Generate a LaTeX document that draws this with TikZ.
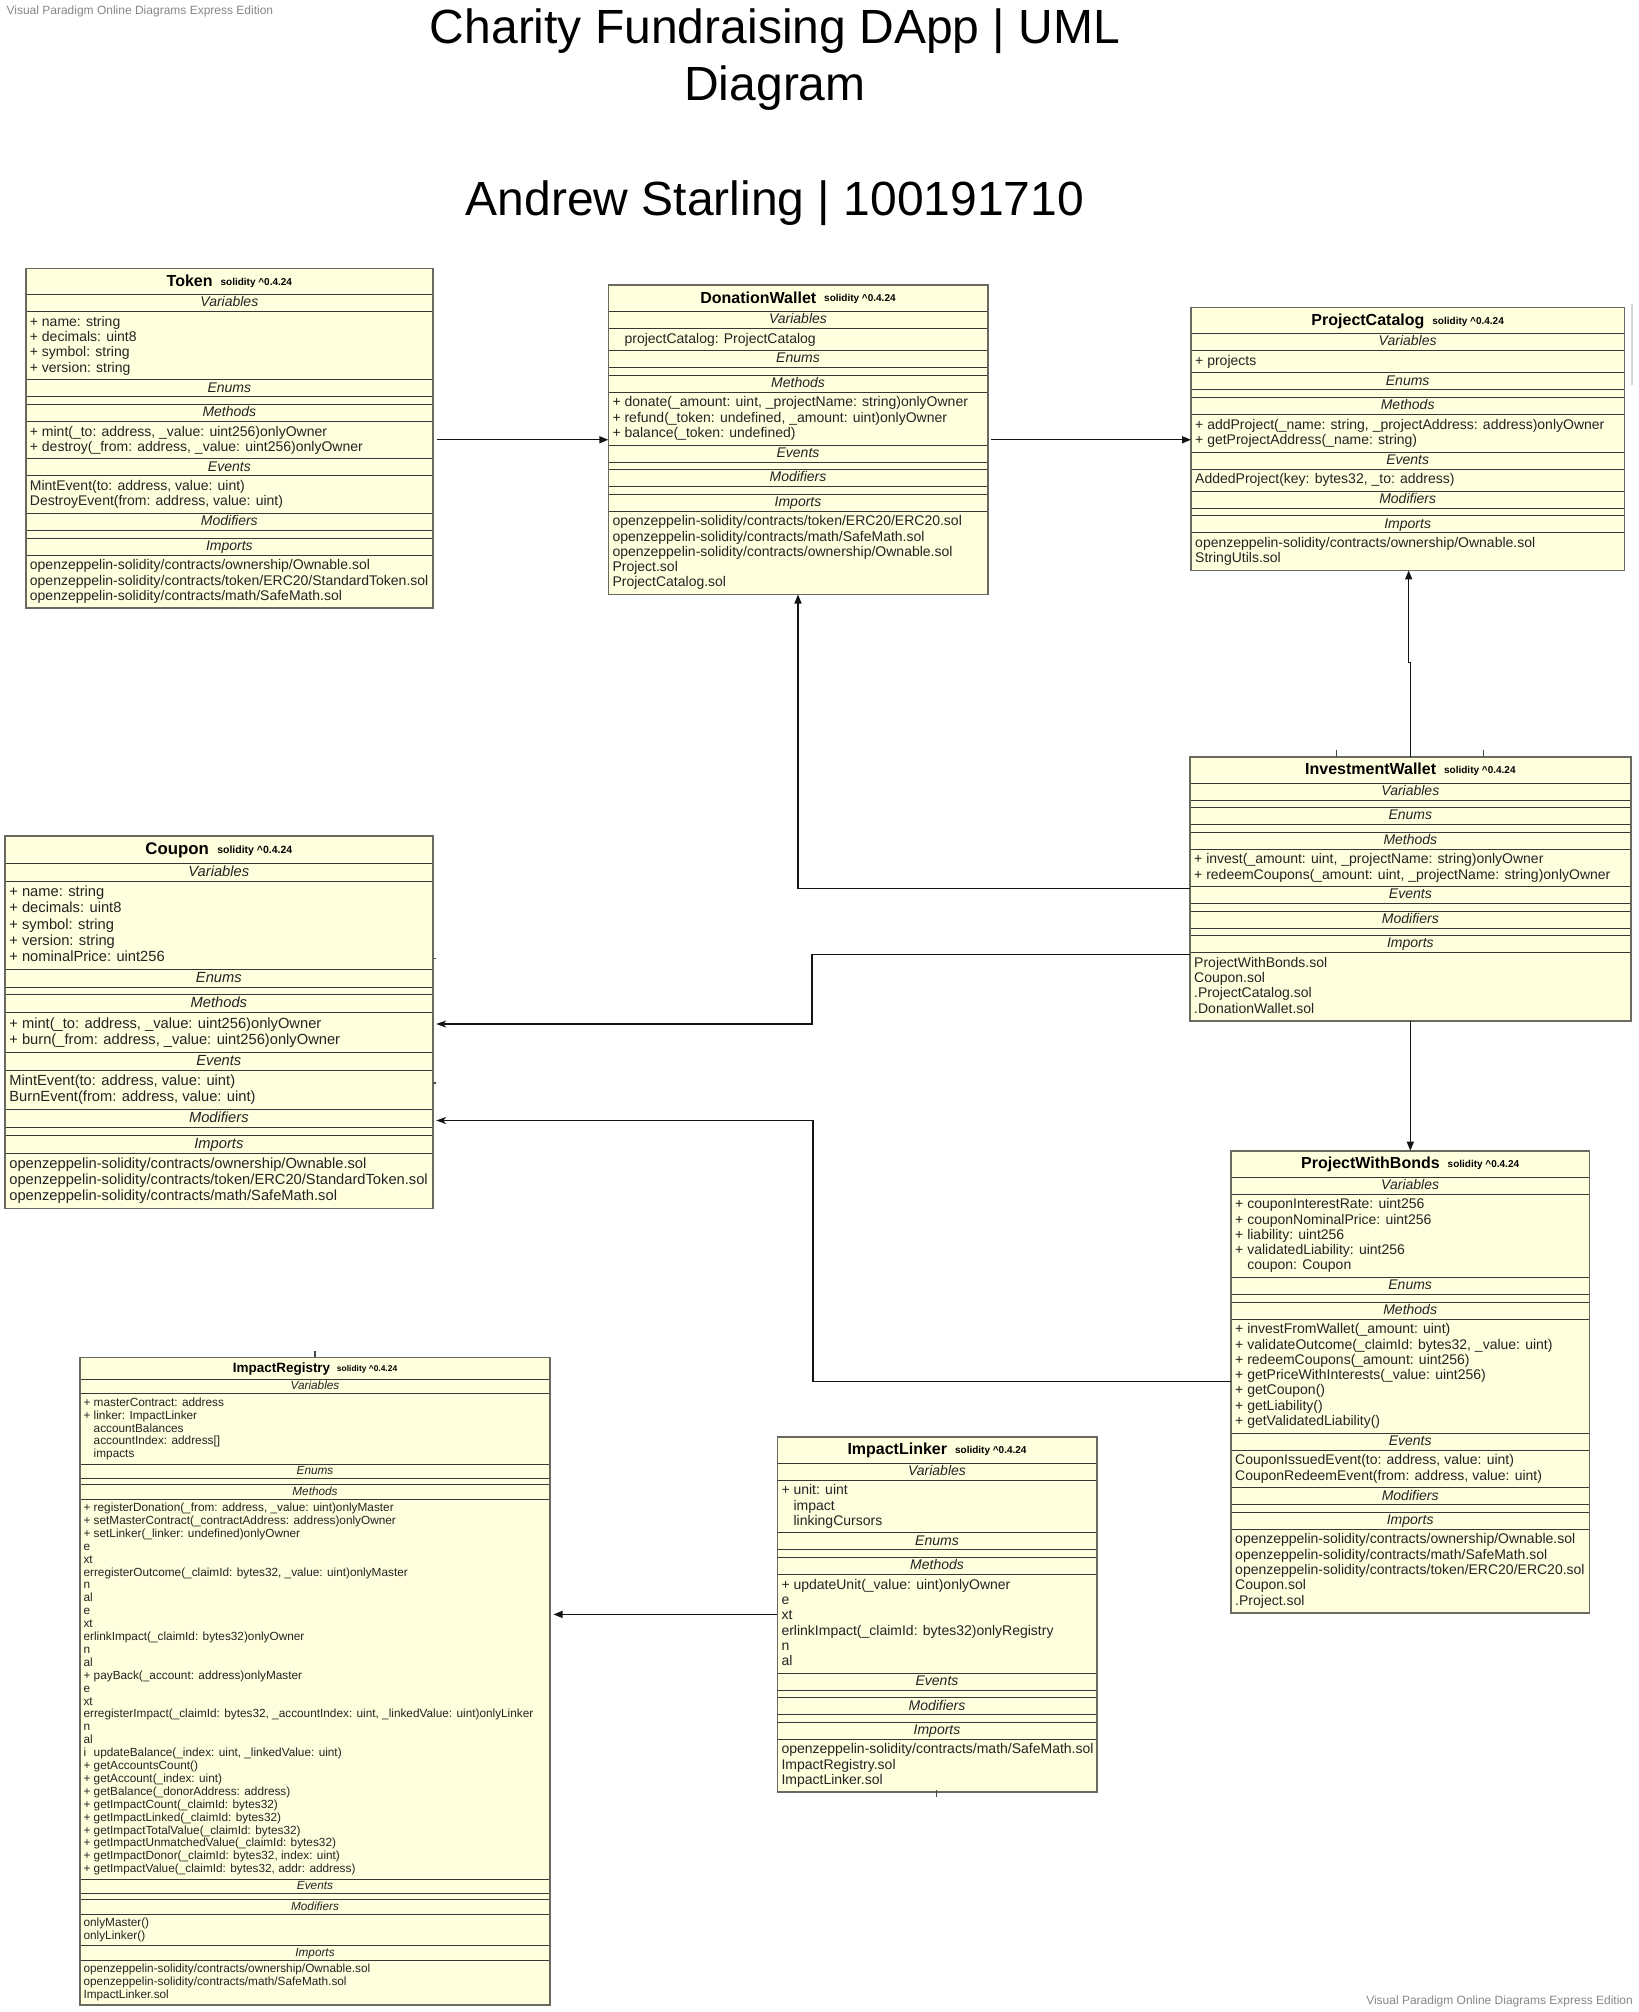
\documentclass[tikz,border=0pt]{standalone}
\usepackage{fontspec}
\setmainfont{Liberation Sans}
\usetikzlibrary{arrows.meta,calc}
\pgfdeclarelayer{bg}
\pgfsetlayers{bg,main}
\definecolor{ufill}{RGB}{255,255,221}
\definecolor{uborder}{RGB}{105,105,95}
\definecolor{usep}{RGB}{55,55,55}
\definecolor{utext}{RGB}{35,35,35}
\definecolor{uwm}{RGB}{135,135,135}
\definecolor{uline}{RGB}{20,20,20}
\definecolor{utick}{RGB}{70,70,70}
\definecolor{ulight}{RGB}{215,215,215}
\newcounter{tn}
\tikzset{
  classbox/.style={fill=ufill, inner sep=0pt, outer sep=0pt},
  borderline/.style={draw=uborder, line width=1.6pt},
  sepline/.style={draw=usep, line width=0.95pt},
  conn/.style={draw=uline, line width=1.4pt, -{Triangle[length=9pt,width=7pt]}},
  connb/.style={draw=uline, line width=1.4pt, -{Stealth[length=10pt,width=7pt,inset=3pt]}},
  tickline/.style={draw=utick, line width=1.2pt},
  hdrtext/.style={anchor=base, inner sep=0pt, text=utext, font=\fontsize{\ufs}{\ubs}\selectfont\itshape},
  bodytext/.style={anchor=base west, inner sep=0pt, text=utext, font=\fontsize{\ufs}{\ubs}\selectfont},
  wm/.style={inner sep=0pt, text=uwm, font=\fontsize{12}{14}\selectfont},
  bigtitle/.style={anchor=base, inner sep=0pt, text=black, font=\fontsize{48}{57}\selectfont}
}
\newcommand\ind{\phantom{+}\ }
\newcommand\ucbegin[6]{%
  \def\uname{#1}%
  \pgfmathsetmacro\ux{#2}%
  \pgfmathsetmacro\utop{#3}%
  \pgfmathsetmacro\uw{#4}%
  \pgfmathsetmacro\us{#5}%
  \pgfmathsetmacro\ufs{14*\us}%
  \pgfmathsetmacro\ubs{15.3*\us}%
  \pgfmathsetmacro\utf{16*\us}%
  \pgfmathsetmacro\usf{10*\us}%
  \pgfmathsetmacro\usp{8*\us}%
  \pgfmathsetmacro\usr{1.2*\us}%
  \stepcounter{tn}%
  \node[anchor=base, inner sep=0pt, text=black, font=\fontsize{\utf}{\utf}\selectfont\bfseries] (t\thetn) at (\ux+\uw/2, \utop+18*\us) {#6\hspace{\usp pt}\raisebox{\usr pt}{\fontsize{\usf}{\usf}\selectfont solidity \textasciicircum0.4.24}};
  \pgfmathsetmacro\uy{\utop+26.3*\us}%
  \draw[sepline] (\ux,\uy) -- ++(\uw,0);
}
\newcommand\uhdr[1]{%
  \stepcounter{tn}%
  \node[hdrtext] (t\thetn) at (\ux+\uw/2, \uy+12.3*\us) {#1};
  \pgfmathsetmacro\uy{\uy+17*\us}%
  \draw[sepline] (\ux,\uy) -- ++(\uw,0);
}
\newcommand\ubody[2]{%
  \stepcounter{tn}%
  \node[bodytext] (t\thetn) at (\ux+4*\us, \uy+14.7*\us) {\begin{tabular}[t]{@{}l@{}}#2\end{tabular}};
  \pgfmathsetmacro\uy{\uy+15.3*\us*#1+7*\us}%
  \draw[sepline] (\ux,\uy) -- ++(\uw,0);
}
\newcommand\uempty{%
  \pgfmathsetmacro\uy{\uy+7.5*\us}%
  \draw[sepline] (\ux,\uy) -- ++(\uw,0);
}
\newcommand\ucend{%
  \pgfmathsetmacro\uh{\uy-\utop}%
  \begin{pgfonlayer}{bg}
    \node[classbox, anchor=north west, minimum width=\uw pt, minimum height=\uh pt] (\uname) at (\ux,\utop) {};
  \end{pgfonlayer}
  \draw[borderline] (\uname.north west) rectangle (\uname.south east);
}
\begin{document}
\begin{tikzpicture}[x=1pt,y=-1pt]
\begin{pgfonlayer}{bg}
  \fill[white] (0,0) rectangle (1638,2012);
\end{pgfonlayer}
\useasboundingbox (0,0) rectangle (1638,2012);

% watermarks and title
\node[wm, anchor=base west] (wm1) at (6.4,15) {Visual Paradigm Online Diagrams Express Edition};
\node[wm, anchor=base east] (wm2) at (1633,2004) {Visual Paradigm Online Diagrams Express Edition};
\node[bigtitle] (title1) at (775,43.5) {Charity Fundraising DApp | UML};
\node[bigtitle] (title2) at (775,100.7) {Diagram};
\node[bigtitle] (title3) at (775,215) {Andrew Starling | 100191710};

% Token
\ucbegin{token}{25.7}{268.3}{407.3}{1}{Token}
\uhdr{Variables}
\ubody{4}{+ name: string\\+ decimals: uint8\\+ symbol: string\\+ version: string}
\uhdr{Enums}
\uempty
\uhdr{Methods}
\ubody{2}{+ mint(\_to: address, \_value: uint256)onlyOwner\\+ destroy(\_from: address, \_value: uint256)onlyOwner}
\uhdr{Events}
\ubody{2}{MintEvent(to: address, value: uint)\\DestroyEvent(from: address, value: uint)}
\uhdr{Modifiers}
\uempty
\uhdr{Imports}
\ubody{3}{openzeppelin-solidity/contracts/ownership/Ownable.sol\\openzeppelin-solidity/contracts/token/ERC20/StandardToken.sol\\openzeppelin-solidity/contracts/math/SafeMath.sol}
\ucend

% DonationWallet
\ucbegin{dw}{608.3}{285}{379.4}{1}{DonationWallet}
\uhdr{Variables}
\ubody{1}{\ind projectCatalog: ProjectCatalog}
\uhdr{Enums}
\uempty
\uhdr{Methods}
\ubody{3}{+ donate(\_amount: uint, \_projectName: string)onlyOwner\\+ refund(\_token: undefined, \_amount: uint)onlyOwner\\+ balance(\_token: undefined)}
\uhdr{Events}
\uempty
\uhdr{Modifiers}
\uempty
\uhdr{Imports}
\ubody{5}{openzeppelin-solidity/contracts/token/ERC20/ERC20.sol\\openzeppelin-solidity/contracts/math/SafeMath.sol\\openzeppelin-solidity/contracts/ownership/Ownable.sol\\Project.sol\\ProjectCatalog.sol}
\ucend

% ProjectCatalog
\ucbegin{pc}{1191}{307.3}{433.3}{1}{ProjectCatalog}
\uhdr{Variables}
\ubody{1}{+ projects}
\uhdr{Enums}
\uempty
\uhdr{Methods}
\ubody{2}{+ addProject(\_name: string, \_projectAddress: address)onlyOwner\\+ getProjectAddress(\_name: string)}
\uhdr{Events}
\ubody{1}{AddedProject(key: bytes32, \_to: address)}
\uhdr{Modifiers}
\uempty
\uhdr{Imports}
\ubody{2}{openzeppelin-solidity/contracts/ownership/Ownable.sol\\StringUtils.sol}
\ucend

% InvestmentWallet
\ucbegin{iw}{1190}{756.7}{440.7}{1}{InvestmentWallet}
\uhdr{Variables}
\uempty
\uhdr{Enums}
\uempty
\uhdr{Methods}
\ubody{2}{+ invest(\_amount: uint, \_projectName: string)onlyOwner\\+ redeemCoupons(\_amount: uint, \_projectName: string)onlyOwner}
\uhdr{Events}
\uempty
\uhdr{Modifiers}
\uempty
\uhdr{Imports}
\ubody{4}{ProjectWithBonds.sol\\Coupon.sol\\.ProjectCatalog.sol\\.DonationWallet.sol}
\ucend

% Coupon
\ucbegin{coupon}{5}{836}{427.7}{1.05}{Coupon}
\uhdr{Variables}
\ubody{5}{+ name: string\\+ decimals: uint8\\+ symbol: string\\+ version: string\\+ nominalPrice: uint256}
\uhdr{Enums}
\uempty
\uhdr{Methods}
\ubody{2}{+ mint(\_to: address, \_value: uint256)onlyOwner\\+ burn(\_from: address, \_value: uint256)onlyOwner}
\uhdr{Events}
\ubody{2}{MintEvent(to: address, value: uint)\\BurnEvent(from: address, value: uint)}
\uhdr{Modifiers}
\uempty
\uhdr{Imports}
\ubody{3}{openzeppelin-solidity/contracts/ownership/Ownable.sol\\openzeppelin-solidity/contracts/token/ERC20/StandardToken.sol\\openzeppelin-solidity/contracts/math/SafeMath.sol}
\ucend

% ProjectWithBonds
\ucbegin{pwb}{1231}{1150.7}{358.3}{1}{ProjectWithBonds}
\uhdr{Variables}
\ubody{5}{+ couponInterestRate: uint256\\+ couponNominalPrice: uint256\\+ liability: uint256\\+ validatedLiability: uint256\\\ind coupon: Coupon}
\uhdr{Enums}
\uempty
\uhdr{Methods}
\ubody{7}{+ investFromWallet(\_amount: uint)\\+ validateOutcome(\_claimId: bytes32, \_value: uint)\\+ redeemCoupons(\_amount: uint256)\\+ getPriceWithInterests(\_value: uint256)\\+ getCoupon()\\+ getLiability()\\+ getValidatedLiability()}
\uhdr{Events}
\ubody{2}{CouponIssuedEvent(to: address, value: uint)\\CouponRedeemEvent(from: address, value: uint)}
\uhdr{Modifiers}
\uempty
\uhdr{Imports}
\ubody{5}{openzeppelin-solidity/contracts/ownership/Ownable.sol\\openzeppelin-solidity/contracts/math/SafeMath.sol\\openzeppelin-solidity/contracts/token/ERC20/ERC20.sol\\Coupon.sol\\.Project.sol}
\ucend

% ImpactRegistry
\ucbegin{ir}{80}{1357.3}{470}{0.843}{ImpactRegistry}
\uhdr{Variables}
\ubody{5}{+ masterContract: address\\+ linker: ImpactLinker\\\ind accountBalances\\\ind accountIndex: address[]\\\ind impacts}
\uhdr{Enums}
\uempty
\uhdr{Methods}
\ubody{29}{+ registerDonation(\_from: address, \_value: uint)onlyMaster\\+ setMasterContract(\_contractAddress: address)onlyOwner\\+ setLinker(\_linker: undefined)onlyOwner\\e\\xt\\erregisterOutcome(\_claimId: bytes32, \_value: uint)onlyMaster\\n\\al\\e\\xt\\erlinkImpact(\_claimId: bytes32)onlyOwner\\n\\al\\+ payBack(\_account: address)onlyMaster\\e\\xt\\erregisterImpact(\_claimId: bytes32, \_accountIndex: uint, \_linkedValue: uint)onlyLinker\\n\\al\\\rlap{i}\phantom{+}\ updateBalance(\_index: uint, \_linkedValue: uint)\\+ getAccountsCount()\\+ getAccount(\_index: uint)\\+ getBalance(\_donorAddress: address)\\+ getImpactCount(\_claimId: bytes32)\\+ getImpactLinked(\_claimId: bytes32)\\+ getImpactTotalValue(\_claimId: bytes32)\\+ getImpactUnmatchedValue(\_claimId: bytes32)\\+ getImpactDonor(\_claimId: bytes32, index: uint)\\+ getImpactValue(\_claimId: bytes32, addr: address)}
\uhdr{Events}
\uempty
\uhdr{Modifiers}
\ubody{2}{onlyMaster()\\onlyLinker()}
\uhdr{Imports}
\ubody{3}{openzeppelin-solidity/contracts/ownership/Ownable.sol\\openzeppelin-solidity/contracts/math/SafeMath.sol\\ImpactLinker.sol}
\ucend

% ImpactLinker
\ucbegin{il}{777.3}{1436.7}{319.4}{1}{ImpactLinker}
\uhdr{Variables}
\ubody{3}{+ unit: uint\\\ind impact\\\ind linkingCursors}
\uhdr{Enums}
\uempty
\uhdr{Methods}
\ubody{6}{+ updateUnit(\_value: uint)onlyOwner\\e\\xt\\erlinkImpact(\_claimId: bytes32)onlyRegistry\\n\\al}
\uhdr{Events}
\uempty
\uhdr{Modifiers}
\uempty
\uhdr{Imports}
\ubody{3}{openzeppelin-solidity/contracts/math/SafeMath.sol\\ImpactRegistry.sol\\ImpactLinker.sol}
\ucend

% connectors
\draw[conn] ($(token.east |- dw.west)+(3.5,0)$) -- (dw.west);
\draw[conn] ($(dw.east)+(3.5,0)$) -- (dw.east -| pc.west);
\draw[conn] (iw.west) -| (dw.south);
\coordinate (jog) at ($(iw.north)+(-1.7,-94.4)$);
\draw[conn] (iw.north) |- (jog) -- (jog |- pc.south);
\draw[conn] (iw.south) -- (iw.south |- pwb.north);
\coordinate (k1) at (812,1024);
\draw[connb] ($(iw.west)+(0,65.5)$) -| (k1) -- ($(k1 -| coupon.east)+(3.5,0)$);
\coordinate (k2) at (813,1120.5);
\draw[connb] (pwb.west) -| (k2) -- ($(k2 -| coupon.east)+(3.5,0)$);
\draw[conn] (il.west) -- ($(il.west -| ir.east)+(3.5,0)$);

% small leftover stubs
\draw[tickline] (1336.7,750) -- (1336.7,756.7);
\draw[tickline] (1483.3,750) -- (1483.3,756.7);
\draw[tickline] (315,1351) -- (315,1357.3);
\draw[tickline] (936.7,1790) -- (936.7,1797);
\draw[tickline] (433.5,958.3) -- (435.5,958.3);
\draw[tickline] (433.5,1083) -- (435.5,1083);
\draw[draw=ulight, line width=2pt] (1631.7,304) -- (1631.7,385);
\end{tikzpicture}
\end{document}
